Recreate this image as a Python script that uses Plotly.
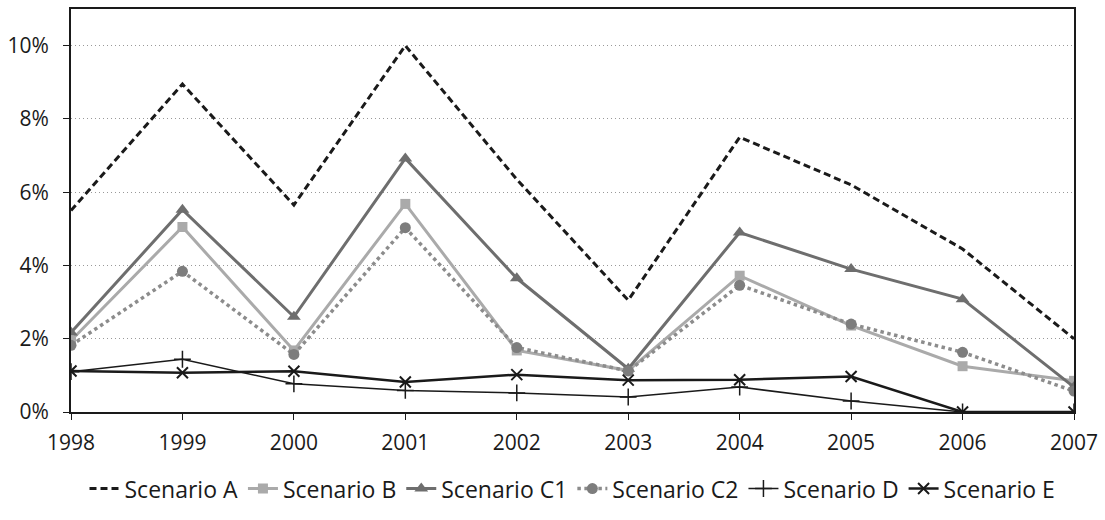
import plotly.graph_objects as go

years = [1998, 1999, 2000, 2001, 2002, 2003, 2004, 2005, 2006, 2007]
scenario_a = [5.5, 8.95, 5.65, 10.0, 6.35, 3.05, 7.5, 6.2, 4.45, 2.0]
scenario_b = [1.95, 5.05, 1.68, 5.68, 1.68, 1.13, 3.72, 2.36, 1.25, 0.85]
scenario_c1 = [2.17, 5.52, 2.6, 6.92, 3.65, 1.18, 4.9, 3.9, 3.08, 0.68]
scenario_c2 = [1.82, 3.84, 1.57, 5.03, 1.76, 1.12, 3.46, 2.4, 1.63, 0.57]
scenario_d = [1.1, 1.44, 0.77, 0.59, 0.52, 0.41, 0.68, 0.3, 0.0, 0.0]
scenario_e = [1.12, 1.07, 1.11, 0.82, 1.02, 0.87, 0.88, 0.97, 0.0, 0.0]
names = ["Scenario A", "Scenario B", "Scenario C1", "Scenario C2", "Scenario D", "Scenario E"]

def pct(v):
    return [x / 100 for x in v]

fig = go.Figure()
fig.add_trace(go.Scatter(x=years, y=pct(scenario_a), name=names[0], mode="lines",
                         line=dict(color="#1a1a1a", width=3, dash="7px,4px")))
fig.add_trace(go.Scatter(x=years, y=pct(scenario_b), name=names[1], mode="lines+markers",
                         line=dict(color="#aaaaaa", width=3),
                         marker=dict(symbol="square", size=10, color="#aaaaaa")))
fig.add_trace(go.Scatter(x=years, y=pct(scenario_c1), name=names[2], mode="lines+markers",
                         line=dict(color="#6e6e6e", width=3),
                         marker=dict(symbol="triangle-up", size=12, color="#6e6e6e")))
fig.add_trace(go.Scatter(x=years, y=pct(scenario_c2), name=names[3], mode="lines+markers",
                         line=dict(color="#8c8c8c", width=3.5, dash="dot"),
                         marker=dict(symbol="circle", size=11, color="#7d7d7d")))
fig.add_trace(go.Scatter(x=years, y=pct(scenario_d), name=names[4], mode="lines+markers",
                         line=dict(color="#1a1a1a", width=1.5),
                         marker=dict(symbol="cross-thin", size=12, color="#1a1a1a",
                                     line=dict(color="#1a1a1a", width=1.5))))
fig.add_trace(go.Scatter(x=years, y=pct(scenario_e), name=names[5], mode="lines+markers",
                         line=dict(color="#1a1a1a", width=2.5),
                         marker=dict(symbol="x-thin", size=11, color="#1a1a1a",
                                     line=dict(color="#1a1a1a", width=2))))

font = "Open Sans"
fig.update_layout(
    width=1105, height=520,
    margin=dict(l=70, r=28, t=7, b=108),
    paper_bgcolor="white", plot_bgcolor="white",
    font=dict(family=font, size=21, color="#1a1a1a"),
    showlegend=True,
    legend=dict(orientation="h", x=0.5, xanchor="center", y=-0.19, yanchor="middle",
                font=dict(size=23), itemwidth=30, tracegroupgap=0),
    xaxis=dict(range=[1998, 2007], tickmode="array", tickvals=years,
               showgrid=False, showline=True, linecolor="#1a1a1a", linewidth=2,
               mirror=True, ticks="outside", ticklen=6, tickcolor="#1a1a1a",
               ticklabelstandoff=5, zeroline=False),
    yaxis=dict(range=[0, 0.11], tickmode="array", tickvals=[0, 0.02, 0.04, 0.06, 0.08, 0.10],
               tickformat=".0%", showgrid=True, gridcolor="#999999", griddash="1px,3px",
               gridwidth=1, showline=True, linecolor="#1a1a1a", linewidth=2,
               mirror=True, ticks="outside", ticklen=6, tickcolor="#1a1a1a",
               ticklabelstandoff=10, zeroline=False),
)

fig.write_html("out.html")
